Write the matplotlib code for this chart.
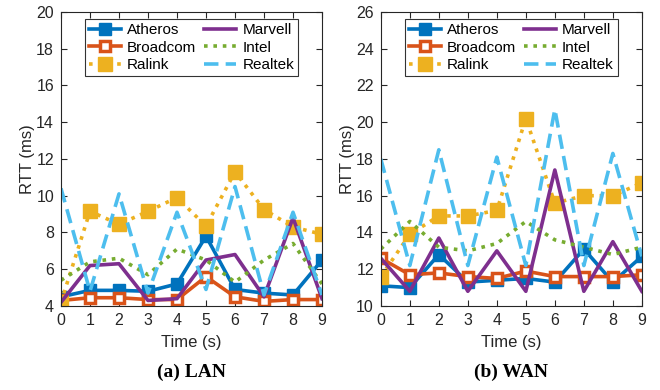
import matplotlib
matplotlib.use('Agg')
import matplotlib.pyplot as plt

# time axis
t = [0, 1, 2, 3, 4, 5, 6, 7, 8, 9]

# LAN RTT (ms)
lanAtheros = [4.5, 4.85, 4.85, 4.8, 5.2, 7.8, 4.9, 4.7, 4.6, 6.5]
lanBroadcom = [4.3, 4.45, 4.45, 4.35, 4.35, 5.6, 4.5, 4.25, 4.35, 4.35]
lanRalink = [4.2, 9.15, 8.45, 9.15, 9.9, 8.35, 11.3, 9.25, 8.3, 7.9]
lanMarvell = [4.2, 6.2, 6.3, 4.3, 4.4, 6.5, 6.8, 4.5, 8.8, 4.4]
lanIntel = [5.4, 6.4, 6.6, 5.7, 7.1, 6.5, 5.3, 6.5, 7.4, 5.2]
lanRealtek = [10.4, 4.8, 10.1, 4.7, 9.1, 4.9, 10.5, 4.6, 9.1, 4.6]

# WAN RTT (ms)
wanAtheros = [11.1, 11.0, 12.8, 11.3, 11.4, 11.5, 11.3, 13.1, 11.3, 12.7]
wanBroadcom = [12.6, 11.7, 11.8, 11.6, 11.5, 11.9, 11.6, 11.6, 11.6, 11.7]
wanRalink = [11.6, 13.9, 14.9, 14.9, 15.2, 20.2, 15.6, 16.0, 16.0, 16.7]
wanMarvell = [12.6, 10.8, 13.7, 10.8, 13.0, 10.8, 17.4, 10.8, 13.5, 10.8]
wanIntel = [13.1, 14.6, 13.2, 13.0, 13.4, 14.6, 13.6, 13.2, 12.8, 13.2]
wanRealtek = [18.0, 12.2, 18.5, 12.2, 18.1, 12.2, 20.7, 12.2, 18.3, 12.7]

names = ['Atheros', 'Broadcom', 'Ralink', 'Marvell', 'Intel', 'Realtek']

# matlab colours
blue = '#0072BD'
orange = '#D95319'
yellow = '#EDB120'
purple = '#7E2F8E'
green = '#77AC30'
cyan = '#4DBEEE'

plt.rcParams['font.family'] = ['Liberation Sans', 'DejaVu Sans']

lw = 2.6
styles = [
    dict(color=blue, linestyle='-', marker='s', markersize=8.5, markerfacecolor=blue),
    dict(color=orange, linestyle='-', marker='s', markersize=7,
         markerfacecolor='white', markeredgewidth=2.5),
    dict(color=yellow, linestyle=(0, (1, 1.6)), marker='s', markersize=9.5,
         markerfacecolor=yellow),
    dict(color=purple, linestyle='-'),
    dict(color=green, linestyle=(0, (1, 1.6))),
    dict(color=cyan, linestyle=(0, (4, 2))),
]


def drawPanel(ax, series, ylim, yticks, caption):
    for name, vals, st in zip(names, series, styles):
        ax.plot(t, vals, linewidth=lw, label=name, **st)
    ax.set_xlim(0, 9)
    ax.set_ylim(*ylim)
    ax.set_xticks(t)
    ax.set_yticks(yticks)
    ax.tick_params(direction='in', top=True, right=True, labelsize=11.5,
                   length=4, width=0.8, colors='#262626', pad=5)
    for s in ax.spines.values():
        s.set_color('#262626')
        s.set_linewidth(0.8)
    ax.set_xlabel('Time (s)', fontsize=12, color='#262626', labelpad=5)
    ax.set_ylabel('RTT (ms)', fontsize=12, color='#262626', labelpad=1)
    leg = ax.legend(ncol=2, loc='upper center', bbox_to_anchor=(0.5, 0.985),
                    fontsize=11, frameon=True, fancybox=False, borderpad=0.25,
                    handlelength=2.1, handletextpad=0.4, columnspacing=0.5,
                    labelspacing=0.22, borderaxespad=0.2)
    leg.get_frame().set_edgecolor('black')
    leg.get_frame().set_linewidth(0.8)
    ax.text(0.5, -0.225, caption, transform=ax.transAxes, ha='center', va='center',
            fontsize=14, fontweight='bold', family=['Liberation Serif', 'DejaVu Serif'])


fig = plt.figure(figsize=(6.6, 3.9), dpi=100)
axLan = fig.add_axes([0.0924, 0.2154, 0.3955, 0.754])
axWan = fig.add_axes([0.577, 0.2154, 0.3955, 0.754])

drawPanel(axLan, [lanAtheros, lanBroadcom, lanRalink, lanMarvell, lanIntel, lanRealtek],
          (4, 20), [4, 6, 8, 10, 12, 14, 16, 18, 20], '(a) LAN')
drawPanel(axWan, [wanAtheros, wanBroadcom, wanRalink, wanMarvell, wanIntel, wanRealtek],
          (10, 26), [10, 12, 14, 16, 18, 20, 22, 24, 26], '(b) WAN')

fig.savefig('out.png', dpi=100)
